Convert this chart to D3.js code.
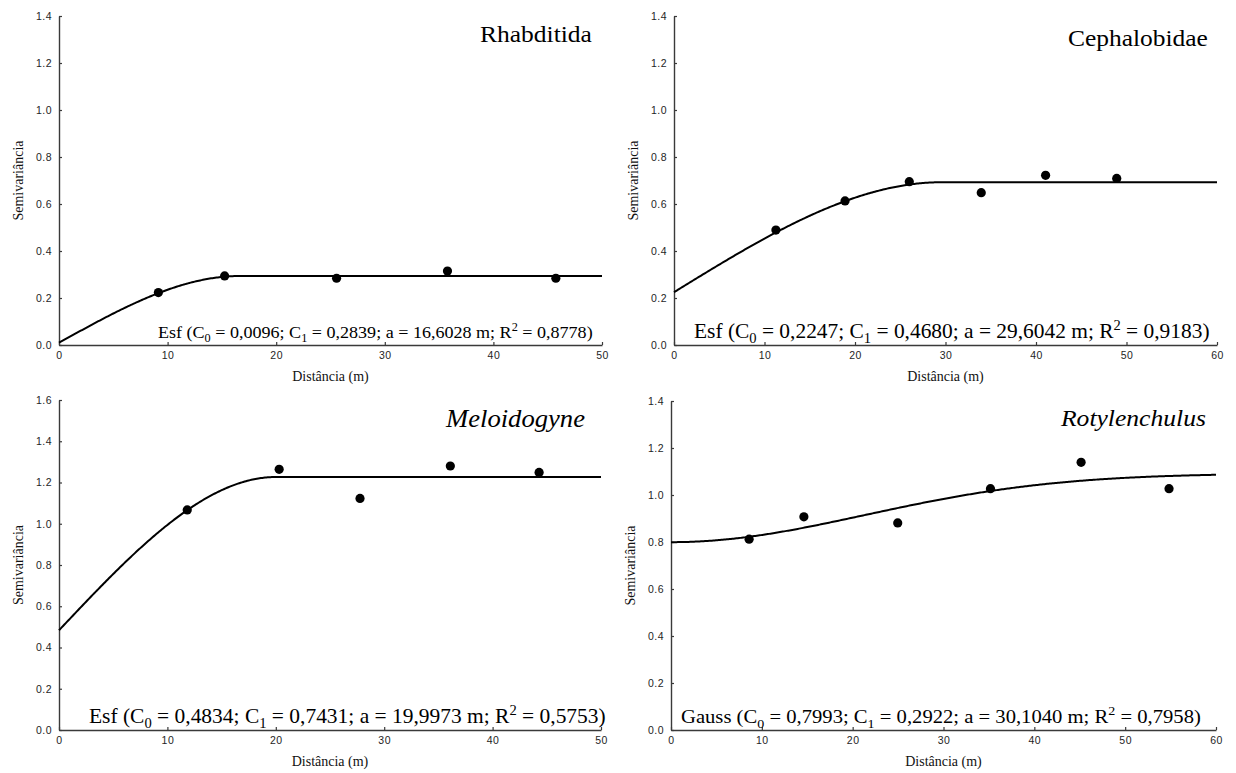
<!DOCTYPE html>
<html>
<head>
<meta charset="utf-8">
<script src="https://cdn.jsdelivr.net/npm/d3@7"></script>
<style>
  body { margin: 0; background: #fff; }
  svg { display: block; }
</style>
</head>
<body>
<svg id="fig" width="1236" height="773"></svg>
<script>
// Empirical semivariograms: lag distance (m) and semivariance
const rhabDist  = [9.15, 15.25, 25.56, 35.77, 45.75];
const rhabGamma = [0.223, 0.294, 0.284, 0.315, 0.284];
const cephDist  = [11.26, 18.9, 26.0, 33.95, 41.06, 48.92];
const cephGamma = [0.489, 0.613, 0.695, 0.648, 0.722, 0.709];
const meloDist  = [11.83, 20.31, 27.77, 36.1, 44.29];
const meloGamma = [1.067, 1.264, 1.123, 1.280, 1.249];
const rotyDist  = [8.6, 14.63, 24.96, 35.17, 45.15, 54.83];
const rotyGamma = [0.812, 0.907, 0.881, 1.027, 1.139, 1.027];

// Fitted models: [C0 (nugget), C1 (structural variance), a (range, m)] and R²
const rhabModel = [0.0096, 0.2839, 16.6028];
const cephModel = [0.2247, 0.4680, 29.6042];
const meloModel = [0.4834, 0.7431, 19.9973];
const rotyModel = [0.7993, 0.2922, 30.1040];
const rhabR2 = 0.8778, cephR2 = 0.9183, meloR2 = 0.5753, rotyR2 = 0.7958;

// Tick values
const xTicks50 = [0, 10, 20, 30, 40, 50];
const xTicks60 = [0, 10, 20, 30, 40, 50, 60];
const yTicks14 = [0, 0.2, 0.4, 0.6, 0.8, 1.0, 1.2, 1.4];
const yTicks16 = [0, 0.2, 0.4, 0.6, 0.8, 1.0, 1.2, 1.4, 1.6];

const xLabel = "Distância (m)";
const yLabel = "Semivariância";

// Semivariogram model functions
function spherical(h, p) {
  const [c0, c1, a] = p;
  if (h >= a) return c0 + c1;
  const r = h / a;
  return c0 + c1 * (1.5 * r - 0.5 * r * r * r);
}
function gaussian(h, p) {
  const [c0, c1, a] = p;
  return c0 + c1 * (1 - Math.exp(-(h / a) * (h / a)));
}

const panels = [
  { title: "Rhabditida", italic: false, dist: rhabDist, gamma: rhabGamma,
    params: rhabModel, r2: rhabR2, model: spherical, name: "Esf",
    xTicks: xTicks50, yTicks: yTicks14,
    frame: { left: 59, right: 602, bottom: 345, top: 16 },
    titleBox: { right: 592, base: 42, w: 112 },
    eqBox: { left: 158, right: 593, base: 338 } },
  { title: "Cephalobidae", italic: false, dist: cephDist, gamma: cephGamma,
    params: cephModel, r2: cephR2, model: spherical, name: "Esf",
    xTicks: xTicks60, yTicks: yTicks14,
    frame: { left: 674, right: 1217, bottom: 345, top: 16 },
    titleBox: { right: 1208, base: 46, w: 140 },
    eqBox: { left: 694, right: 1210, base: 338 } },
  { title: "Meloidogyne", italic: true, dist: meloDist, gamma: meloGamma,
    params: meloModel, r2: meloR2, model: spherical, name: "Esf",
    xTicks: xTicks50, yTicks: yTicks16,
    frame: { left: 59, right: 601, bottom: 730, top: 400 },
    titleBox: { right: 585, base: 427, w: 139 },
    eqBox: { left: 89, right: 606, base: 723 } },
  { title: "Rotylenchulus", italic: true, dist: rotyDist, gamma: rotyGamma,
    params: rotyModel, r2: rotyR2, model: gaussian, name: "Gauss",
    xTicks: xTicks60, yTicks: yTicks14,
    frame: { left: 671, right: 1216, bottom: 730, top: 401 },
    titleBox: { right: 1206, base: 426, w: 145 },
    eqBox: { left: 681, right: 1201, base: 723 } }
];

const svg = d3.select("#fig");
const serif = "'Liberation Serif','Times New Roman',Times,serif";
const sans = "'Liberation Sans',Arial,Helvetica,sans-serif";
const STRETCH = 1.07;             // slight horizontal widening of lettering
const comma = v => d3.format(".4f")(v).replace(".", ",");

// Size a text element so it spans targetW, widened by STRETCH
function fitText(t, left, base, targetW) {
  const fs0 = 20;
  t.attr("font-size", fs0);
  const w = t.node().getComputedTextLength();
  const fs = fs0 * targetW / (w * STRETCH);
  t.attr("font-size", fs)
   .attr("transform", `translate(${left},${base}) scale(${STRETCH},1)`);
}

panels.forEach(p => {
  const f = p.frame;
  const xMax = d3.max(p.xTicks), yMax = d3.max(p.yTicks);
  const x = d3.scaleLinear().domain([0, xMax]).range([f.left, f.right]);
  const y = d3.scaleLinear().domain([0, yMax]).range([f.bottom, f.top]);
  const g = svg.append("g");

  // Axes with short inward ticks
  const ay = g.append("g")
    .attr("transform", `translate(${f.left},0)`)
    .call(d3.axisLeft(y).tickValues(p.yTicks).tickFormat(d3.format(".1f"))
      .tickSizeInner(-3).tickSizeOuter(0).tickPadding(7));
  const ax = g.append("g")
    .attr("transform", `translate(0,${f.bottom})`)
    .call(d3.axisBottom(x).tickValues(p.xTicks).tickFormat(d3.format("d"))
      .tickSizeInner(-3).tickSizeOuter(0).tickPadding(7));
  [ax, ay].forEach(a => {
    a.attr("font-family", sans).attr("font-size", 10.5);
    a.select(".domain").attr("stroke", "#3a3a3a").attr("stroke-width", 1.4);
    a.selectAll(".tick line").attr("stroke", "#3a3a3a").attr("stroke-width", 1.2);
    a.selectAll(".tick text").attr("fill", "#1e1e1e").attr("letter-spacing", 0.5);
  });

  // Fitted model curve
  const hs = d3.range(0, xMax + 1e-9, xMax / 400);
  if (p.model === spherical && p.params[2] < xMax) hs.push(p.params[2]);
  hs.sort((a, b) => a - b);
  g.append("path")
    .datum(hs)
    .attr("fill", "none")
    .attr("stroke", "#000")
    .attr("stroke-width", 2)
    .attr("stroke-linejoin", "round")
    .attr("d", d3.line().x(h => x(h)).y(h => y(p.model(h, p.params))));

  // Experimental semivariances
  g.selectAll("circle.pt")
    .data(p.dist.map((d, i) => [d, p.gamma[i]]))
    .join("circle")
    .attr("class", "pt")
    .attr("cx", d => x(d[0]))
    .attr("cy", d => y(d[1]))
    .attr("r", 4.6)
    .attr("fill", "#000");

  // Taxon name
  const tb = p.titleBox;
  const title = g.append("text")
    .attr("font-family", serif)
    .attr("font-style", p.italic ? "italic" : "normal")
    .attr("fill", "#000")
    .text(p.title);
  fitText(title, tb.right - tb.w, tb.base, tb.w);

  // Model equation with sub/superscripts
  const [c0, c1, a] = p.params;
  const eq = g.append("text").attr("font-family", serif).attr("fill", "#000");
  eq.append("tspan").text(`${p.name} (C`);
  eq.append("tspan").attr("font-size", "0.68em").attr("dy", "0.38em").text("0");
  eq.append("tspan").attr("dy", "-0.258em").text(` = ${comma(c0)}; C`);
  eq.append("tspan").attr("font-size", "0.68em").attr("dy", "0.38em").text("1");
  eq.append("tspan").attr("dy", "-0.258em").text(` = ${comma(c1)}; a = ${comma(a)} m; R`);
  eq.append("tspan").attr("font-size", "0.68em").attr("dy", "-0.6em").text("2");
  eq.append("tspan").attr("dy", "0.408em").text(` = ${comma(p.r2)})`);
  const eb = p.eqBox;
  fitText(eq, eb.left, eb.base, eb.right - eb.left);

  // Axis titles
  g.append("text")
    .attr("font-family", serif)
    .attr("font-size", 14)
    .attr("fill", "#111")
    .attr("text-anchor", "middle")
    .attr("x", (f.left + f.right) / 2)
    .attr("y", f.bottom + 36)
    .text(xLabel);
  g.append("text")
    .attr("font-family", serif)
    .attr("font-size", 14)
    .attr("fill", "#111")
    .attr("text-anchor", "middle")
    .attr("transform", `translate(${f.left - 36},${(f.top + f.bottom) / 2}) rotate(-90)`)
    .text(yLabel);
});
</script>
</body>
</html>
